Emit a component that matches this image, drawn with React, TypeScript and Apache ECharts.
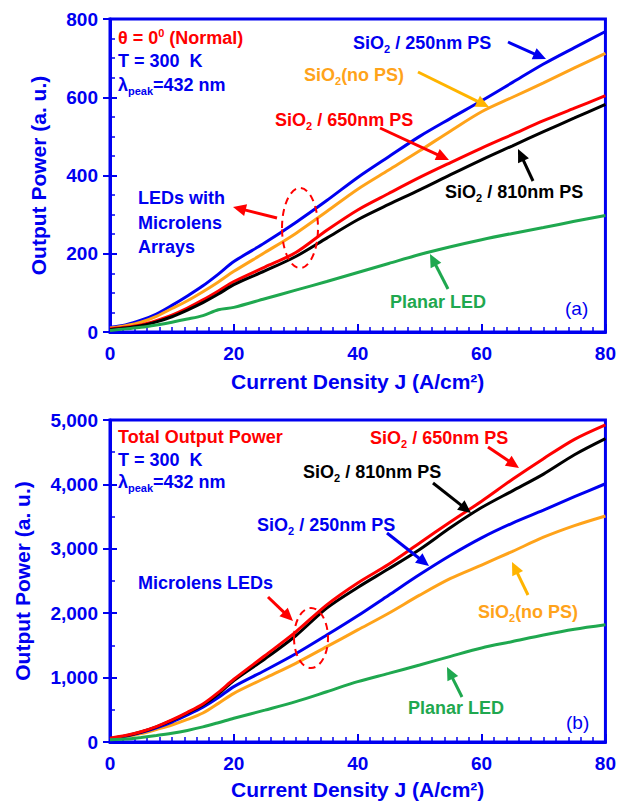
import React, { useEffect, useRef } from 'react';
import * as echarts from 'echarts';

// Current density J (A/cm^2)
const J = [0, 2.5, 5, 7.5, 10, 12.5, 15, 17.5, 20, 25, 30, 35, 40, 45, 50, 55, 60, 65, 70, 75, 80];

// (a) Normal output power
const aBlue250 = [12, 18, 30, 46, 68, 92, 118, 148, 180, 228, 280, 336, 395, 448, 500, 546, 591, 638, 685, 727, 768];
const aOrangeNoPS = [10, 16, 25, 40, 60, 80, 103, 128, 155, 203, 252, 308, 365, 414, 463, 514, 563, 600, 637, 675, 712];
const aRed650 = [8, 12, 18, 29, 43, 61, 82, 105, 129, 166, 203, 260, 312, 354, 395, 433, 470, 505, 540, 572, 604];
const aBlack810 = [6, 10, 16, 26, 39, 56, 75, 97, 121, 156, 193, 240, 287, 326, 363, 402, 440, 476, 512, 547, 582];
const aGreenPlanar = [4, 8, 12, 18, 25, 33, 42, 57, 63, 85, 107, 129, 152, 175, 198, 218, 236, 252, 267, 283, 298];

// (b) Total output power
const bRed650 = [60, 100, 160, 240, 342, 460, 590, 770, 975, 1340, 1710, 2130, 2470, 2760, 3090, 3420, 3740, 4080, 4400, 4700, 4925];
const bBlack810 = [55, 95, 155, 235, 335, 450, 575, 745, 955, 1290, 1650, 2080, 2400, 2690, 2990, 3330, 3640, 3900, 4160, 4460, 4710];
const bBlue250 = [50, 90, 145, 220, 310, 420, 540, 690, 860, 1110, 1370, 1660, 1960, 2280, 2600, 2900, 3170, 3400, 3600, 3810, 4010];
const bOrangeNoPS = [45, 80, 130, 195, 264, 350, 450, 600, 756, 990, 1222, 1480, 1740, 2000, 2280, 2540, 2748, 2960, 3180, 3360, 3510];
const bGreenPlanar = [35, 45, 70, 100, 135, 180, 235, 300, 368, 495, 626, 780, 937, 1065, 1196, 1330, 1460, 1560, 1661, 1750, 1820];

const BLUE = '#0000F0';
const RED = '#FF0000';
const ORANGE = '#FFA31A';
const BLACK = '#000000';
const GREEN = '#1FA84F';
const FONT = '"Liberation Sans", Arial, Helvetica, sans-serif';

function mkSeries(name: string, ys: number[], color: string, xi: number, yi: number) {
  return {
    name,
    type: 'line',
    xAxisIndex: xi,
    yAxisIndex: yi,
    data: J.map((x, i) => [x, ys[i]]),
    showSymbol: false,
    smooth: 0.3,
    lineStyle: { color, width: 3 },
    itemStyle: { color },
  };
}

function richStyles(color: string, size = 18) {
  return {
    a: { fontSize: size, fontWeight: 'bold', fontFamily: FONT, fill: color, lineHeight: 22 },
    s: { fontSize: 11, fontWeight: 'bold', fontFamily: FONT, fill: color, lineHeight: 10, verticalAlign: 'bottom' },
    p: { fontSize: 11, fontWeight: 'bold', fontFamily: FONT, fill: color, lineHeight: 10, verticalAlign: 'top' },
    n: { fontSize: 19, fontWeight: 'normal', fontFamily: FONT, fill: color, lineHeight: 22 },
  };
}

function label(x: number, y: number, text: string, color: string, size = 18) {
  return {
    type: 'text',
    x,
    y,
    z: 100,
    style: {
      text,
      rich: richStyles(color, size),
      align: 'left',
      verticalAlign: 'middle',
    },
  };
}

function arrow(x1: number, y1: number, x2: number, y2: number, color: string) {
  const ang = Math.atan2(y2 - y1, x2 - x1);
  const L = 13;
  const W = 6;
  const bx = x2 - L * Math.cos(ang);
  const by = y2 - L * Math.sin(ang);
  const nx = -Math.sin(ang);
  const ny = Math.cos(ang);
  return [
    {
      type: 'line',
      z: 100,
      shape: { x1, y1, x2: bx + 2 * Math.cos(ang), y2: by + 2 * Math.sin(ang) },
      style: { stroke: color, lineWidth: 3 },
    },
    {
      type: 'polygon',
      z: 100,
      shape: { points: [[x2, y2], [bx + W * nx, by + W * ny], [bx - W * nx, by - W * ny]] },
      style: { fill: color },
    },
  ];
}

function xAxisCfg(gridIndex: number, gap: number) {
  return {
    type: 'value',
    gridIndex,
    min: 0,
    max: 80,
    interval: 20,
    name: 'Current Density J (A/cm²)',
    nameLocation: 'middle',
    nameGap: gap,
    nameTextStyle: { color: BLUE, fontSize: 21, fontWeight: 'bold', fontFamily: FONT },
    axisLine: { lineStyle: { color: BLUE, width: 3 } },
    axisTick: { inside: true, length: 8, lineStyle: { color: BLUE, width: 2 } },
    minorTick: { show: true, splitNumber: 10, length: 5, lineStyle: { color: BLUE, width: 1.5 } },
    splitLine: { show: false },
    axisLabel: { color: BLUE, fontSize: 19, fontWeight: 'bold', fontFamily: FONT, margin: 12 },
  };
}

function yAxisMain(gridIndex: number, max: number, interval: number, gap: number) {
  return {
    type: 'value',
    gridIndex,
    position: 'left',
    min: 0,
    max,
    interval,
    name: 'Output Power (a. u.)',
    nameLocation: 'middle',
    nameGap: gap,
    nameRotate: 90,
    nameTextStyle: { color: BLUE, fontSize: 21, fontWeight: 'bold', fontFamily: FONT },
    axisLine: { lineStyle: { color: BLUE, width: 3 } },
    axisTick: { inside: false, length: 7, lineStyle: { color: BLUE, width: 2 } },
    minorTick: { show: false },
    splitLine: { show: false },
    axisLabel: { color: BLUE, fontSize: 19, fontWeight: 'bold', fontFamily: FONT, margin: 12 },
  };
}

function yAxisInner(gridIndex: number, max: number, interval: number, minorSplit: number) {
  return {
    type: 'value',
    gridIndex,
    position: 'left',
    offset: 0,
    min: 0,
    max,
    interval,
    axisLine: { show: false },
    axisLabel: { show: false },
    axisTick: { inside: true, length: 7, lineStyle: { color: BLUE, width: 2 } },
    minorTick: { show: true, splitNumber: minorSplit, length: 5, lineStyle: { color: BLUE, width: 1.5 } },
    splitLine: { show: false },
  };
}

export default function App() {
  const ref = useRef<HTMLDivElement>(null);
  useEffect(() => {
    document.body.style.margin = '0';
    if (!ref.current) return;
    const chart = echarts.init(ref.current, undefined, { renderer: 'svg' });
    const gridBox = { show: true, borderColor: BLUE, borderWidth: 3, backgroundColor: 'transparent' };
    const graphics: any[] = [
      // panel (a)
      label(118, 38, '{a|θ = 0}{p|0}{a| (Normal)}', RED),
      label(118, 61, '{a|T = 300  K}', BLUE),
      label(118, 85, '{a|λ}{s|peak}{a|=432 nm}', BLUE),
      label(353, 43, '{a|SiO}{s|2}{a| / 250nm PS}', BLUE),
      label(304, 75, '{a|SiO}{s|2}{a|(no PS)}', ORANGE),
      label(275, 120, '{a|SiO}{s|2}{a| / 650nm PS}', RED),
      label(445, 192, '{a|SiO}{s|2}{a| / 810nm PS}', BLACK),
      label(138, 198, '{a|LEDs with}', BLUE),
      label(138, 223, '{a|Microlens}', BLUE),
      label(138, 247, '{a|Arrays}', BLUE),
      label(390, 302, '{a|Planar LED}', GREEN),
      label(565, 308, '{n|(a)}', BLUE),
      ...arrow(508, 42, 546, 59, BLUE),
      ...arrow(418, 72, 489, 107, '#FFB400'),
      ...arrow(380, 128, 449, 160, RED),
      ...arrow(533, 181, 518, 149, BLACK),
      ...arrow(277, 218, 233, 207, RED),
      ...arrow(448, 289, 430, 254, GREEN),
      {
        type: 'ellipse',
        z: 100,
        shape: { cx: 300, cy: 228, rx: 18, ry: 40 },
        style: { fill: 'none', stroke: RED, lineWidth: 2, lineDash: [7, 5] },
      },
      // panel (b)
      label(118, 437, '{a|Total Output Power}', RED),
      label(118, 460, '{a|T = 300  K}', BLUE),
      label(118, 482, '{a|λ}{s|peak}{a|=432 nm}', BLUE),
      label(370, 438, '{a|SiO}{s|2}{a| / 650nm PS}', RED),
      label(303, 472, '{a|SiO}{s|2}{a| / 810nm PS}', BLACK),
      label(257, 525, '{a|SiO}{s|2}{a| / 250nm PS}', BLUE),
      label(138, 583, '{a|Microlens LEDs}', BLUE),
      label(478, 612, '{a|SiO}{s|2}{a|(no PS)}', ORANGE),
      label(408, 708, '{a|Planar LED}', GREEN),
      label(566, 722, '{n|(b)}', BLUE),
      ...arrow(488, 447, 519, 468, RED),
      ...arrow(433, 483, 471, 513, BLACK),
      ...arrow(387, 533, 429, 566, BLUE),
      ...arrow(268, 597, 293, 621, RED),
      ...arrow(528, 595, 512, 562, '#FFB400'),
      ...arrow(462, 697, 447, 667, GREEN),
      {
        type: 'ellipse',
        z: 100,
        shape: { cx: 311, cy: 638, rx: 17, ry: 30 },
        style: { fill: 'none', stroke: RED, lineWidth: 2, lineDash: [7, 5] },
      },
    ];
    chart.setOption({
      animation: false,
      backgroundColor: '#ffffff',
      textStyle: { fontFamily: FONT },
      grid: [
        { left: 110, top: 19, right: 13, height: 313, ...gridBox },
        { left: 110, top: 420, right: 13, height: 322, ...gridBox },
      ],
      xAxis: [xAxisCfg(0, 39), xAxisCfg(1, 37)],
      yAxis: [
        yAxisMain(0, 800, 200, 61),
        yAxisInner(0, 800, 200, 4),
        yAxisMain(1, 5000, 1000, 77),
        yAxisInner(1, 5000, 1000, 2),
      ],
      series: [
        mkSeries('(a) SiO2 / 250nm PS', aBlue250, BLUE, 0, 0),
        mkSeries('(a) SiO2 (no PS)', aOrangeNoPS, ORANGE, 0, 0),
        mkSeries('(a) SiO2 / 650nm PS', aRed650, RED, 0, 0),
        mkSeries('(a) SiO2 / 810nm PS', aBlack810, BLACK, 0, 0),
        mkSeries('(a) Planar LED', aGreenPlanar, GREEN, 0, 0),
        mkSeries('(b) SiO2 (no PS)', bOrangeNoPS, ORANGE, 1, 2),
        mkSeries('(b) SiO2 / 250nm PS', bBlue250, BLUE, 1, 2),
        mkSeries('(b) SiO2 / 810nm PS', bBlack810, BLACK, 1, 2),
        mkSeries('(b) SiO2 / 650nm PS', bRed650, RED, 1, 2),
        mkSeries('(b) Planar LED', bGreenPlanar, GREEN, 1, 2),
      ],
      graphic: graphics,
    });
    return () => chart.dispose();
  }, []);
  return <div ref={ref} style={{ width: 619, height: 804 }} />;
}
